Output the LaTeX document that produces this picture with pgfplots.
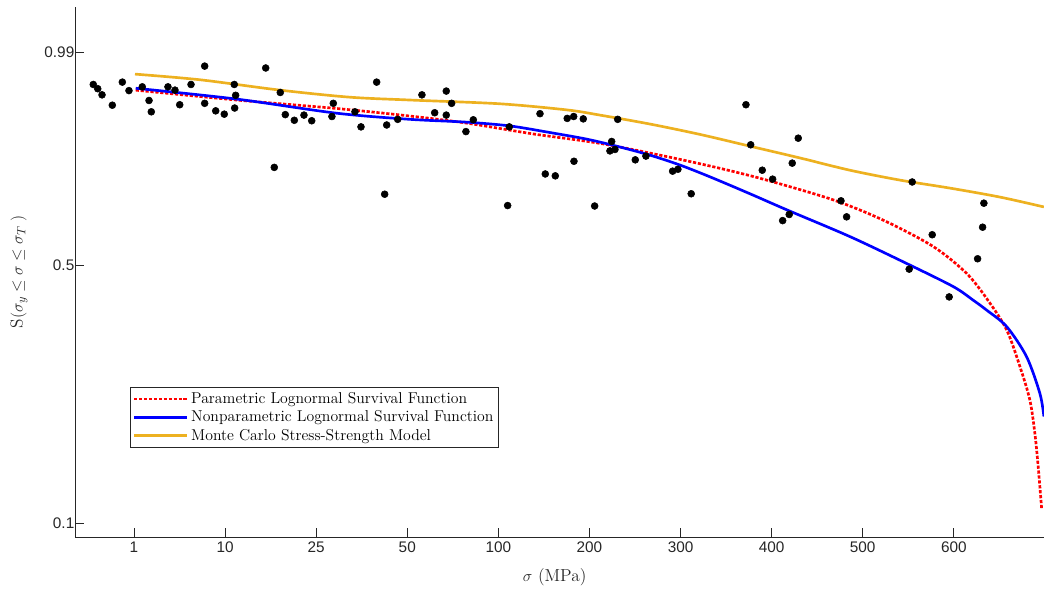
\documentclass[border=0pt]{standalone}
\usepackage{pgfplots}
\pgfplotsset{compat=1.18}
\usepackage{fontspec}
\newfontfamily\ticksf{Liberation Sans}
\definecolor{mred}{rgb}{1,0,0}
\definecolor{mblue}{rgb}{0,0,1}
\definecolor{myellow}{rgb}{0.929,0.694,0.125}
\definecolor{axgray}{rgb}{0.15,0.15,0.15}
\begin{document}
\begin{tikzpicture}
\begin{axis}[
  at={(0,0)}, anchor=south west,
  scale only axis, width=726.75pt, height=397.5pt,
  xmin=-0.6476, xmax=9.99, ymin=-0.0297, ymax=1.0955,
  axis x line*=bottom, axis y line*=left,
  axis line style={-, draw=axgray, line width=0.5pt},
  major tick style={draw=axgray, line width=0.5pt},
  major tick length=6.5pt,
  xtick={0,1,2,3,4,5,6,7,8,9},
  xticklabels={1,10,25,50,100,200,300,400,500,600},
  ytick={0,0.548,1},
  yticklabels={0.1,0.5,0.99},
  tick label style={font=\ticksf\fontsize{11.5}{13}\selectfont, text=axgray},
  yticklabel style={xshift=3pt},
  xlabel={$\sigma$ (MPa)},
  ylabel={$\mathrm{S}(\sigma_y \leq \sigma \leq \sigma_T\;)$},
  xlabel style={at={(axis description cs:0.495,-0.0755)}, anchor=center, font=\fontsize{13}{15}\selectfont, text=axgray},
  ylabel style={at={(axis description cs:-0.0578,0.5)}, anchor=center, font=\fontsize{13}{15}\selectfont, text=axgray},
  clip=true,
  legend style={at={(axis description cs:0.0568,0.283)}, anchor=north west,
    draw=axgray, line width=0.5pt, font=\fontsize{11.8}{14.4}\selectfont,
    inner sep=1.8pt, row sep=0pt, cells={anchor=west}},
  legend image code/.code={\draw[#1, line width=2pt] (0cm,0cm) -- (1.4cm,0cm);},
]
\addplot[mred, line width=2pt, dash pattern=on 2.4pt off 1.3pt, smooth] coordinates {
(0.019,0.919) (1.127,0.898) (2.225,0.880) (3.030,0.864) (3.652,0.849)
(4.383,0.826) (5.115,0.806) (5.847,0.778) (6.433,0.753) (6.945,0.728)
(7.676,0.686) (8.225,0.643) (8.774,0.587) (9.140,0.530) (9.374,0.473)
(9.580,0.410) (9.726,0.332) (9.835,0.261) (9.890,0.190) (9.926,0.120)
(9.964,0.031)};
\addlegendentry{Parametric Lognormal Survival Function}
\addplot[mblue, line width=2pt, smooth] coordinates {
(0.019,0.923) (1.127,0.900) (2.225,0.870) (3.030,0.857) (3.652,0.851)
(4.127,0.843) (4.566,0.829) (4.969,0.815) (5.299,0.800) (5.664,0.781)
(5.993,0.760) (6.322,0.735) (6.762,0.699) (7.165,0.665)
(7.860,0.608) (8.482,0.551) (8.993,0.502)
(9.213,0.473) (9.360,0.452) (9.580,0.417) (9.799,0.353) (9.945,0.275)
(9.989,0.226)};
\addlegendentry{Nonparametric Lognormal Survival Function}
\addplot[myellow, line width=2pt, smooth] coordinates {
(0.011,0.953) (0.724,0.941) (1.603,0.919) (2.371,0.904) (3.030,0.898)
(4.018,0.890) (4.753,0.877) (5.115,0.866) (5.664,0.847) (6.213,0.825)
(6.762,0.800) (7.311,0.775) (7.859,0.749) (8.408,0.728) (8.957,0.711)
(9.505,0.692) (9.989,0.671)};
\addlegendentry{Monte Carlo Stress-Strength Model}
\addplot[only marks, mark=*, mark size=2.6pt, black, forget plot] coordinates {
(-0.447,0.931) (-0.398,0.922) (-0.351,0.909) (-0.238,0.887) (-0.128,0.936)
(-0.055,0.918) (0.091,0.926) (0.165,0.897) (0.190,0.873) (0.373,0.926)
(0.450,0.919) (0.502,0.888) (0.626,0.931) (0.776,0.970) (0.776,0.891)
(0.897,0.875) (0.991,0.868) (1.101,0.931) (1.116,0.908) (1.105,0.881)
(1.446,0.966) (1.540,0.755) (1.606,0.914) (1.661,0.867) (1.760,0.855)
(1.866,0.866) (1.951,0.854) (2.173,0.863) (2.188,0.891) (2.426,0.873)
(2.492,0.841) (2.664,0.936) (2.752,0.698) (2.774,0.845) (2.895,0.857)
(3.161,0.909) (3.428,0.917) (3.301,0.871) (3.428,0.866) (3.487,0.891)
(3.644,0.831) (3.725,0.856) (4.102,0.674) (4.120,0.841) (4.457,0.869)
(4.515,0.741) (4.625,0.737) (4.756,0.859) (4.827,0.863) (4.932,0.858)
(4.830,0.768) (5.057,0.673) (5.310,0.857) (5.244,0.810) (5.225,0.790)
(5.280,0.793) (5.503,0.771) (5.620,0.779) (5.913,0.747) (5.971,0.751)
(6.117,0.699) (6.718,0.888) (6.770,0.803) (7.292,0.817) (6.897,0.749)
(7.011,0.730) (7.226,0.764) (7.121,0.642) (7.193,0.655) (7.761,0.684)
(7.823,0.650) (8.543,0.724) (8.763,0.612) (8.510,0.539) (8.949,0.480)
(9.330,0.679) (9.316,0.628) (9.261,0.561)};
\end{axis}
\pgfresetboundingbox
\path[use as bounding box] (-56.25pt,-39pt) rectangle (726.75pt,402.75pt);
\end{tikzpicture}
\end{document}
